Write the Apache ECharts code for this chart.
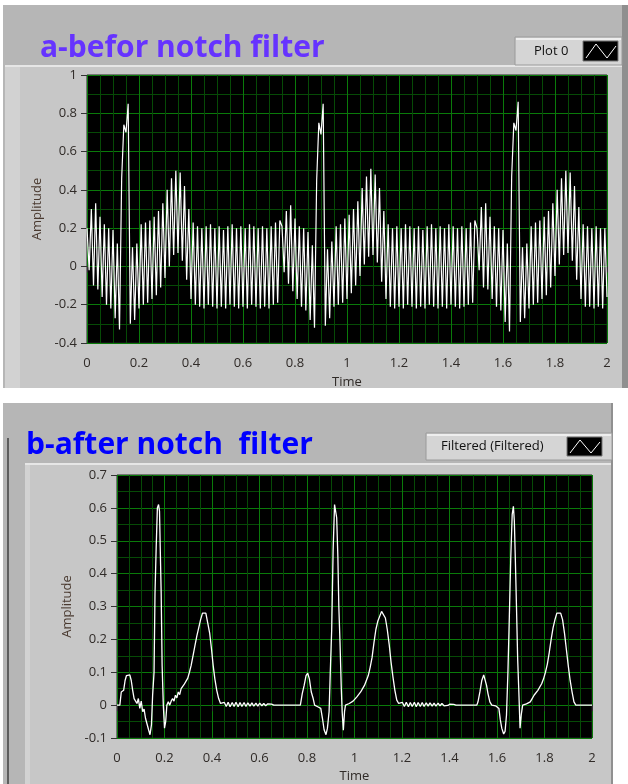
<!DOCTYPE html>
<html>
<head>
<meta charset="utf-8">
<script src="https://cdn.jsdelivr.net/npm/echarts@6/dist/echarts.min.js"></script>
<style>
html,body{margin:0;padding:0;background:#fff;}
#chart{width:628px;height:784px;}
</style>
</head>
<body>
<div id="chart"></div>
<script>
// ---------- DATA ----------
// Panel a: raw signal (ECG + mains interference), samples taken every 1/120 s from t = 0 to 2 s
const SAMPLE_RATE_A = 120;
const rawAmplitudeA = [
  // beat 1
  0.20,-0.02,0.30,-0.10,0.33,-0.12,0.26,-0.16,0.22,-0.20,
  0.20,-0.22,0.19,-0.27,0.12,-0.33,0.46,0.74,0.70,0.85,
  -0.30,0.10,-0.28,0.12,-0.22,0.22,-0.20,0.23,-0.19,0.24,
  -0.17,0.26,-0.15,0.29,-0.11,0.33,-0.06,0.40,0.00,0.46,
  0.06,0.50,0.07,0.49,0.03,0.42,-0.07,0.30,-0.17,0.23,
  -0.20,
  // baseline
  0.21,-0.21,0.20,-0.22,0.21,-0.20,0.22,-0.21,0.20,-0.22,
  0.21,-0.21,0.19,-0.22,0.21,-0.20,0.22,-0.21,0.20,-0.22,
  0.21,-0.21,0.20,-0.22,0.22,-0.20,0.21,-0.21,0.20,-0.22,
  0.21,-0.21,0.20,-0.22,0.21,-0.20,0.23,-0.19,0.24,
  // beat 2
  0.21,-0.03,0.29,-0.09,0.32,-0.13,0.25,-0.17,0.21,-0.21,
  0.20,-0.23,0.18,-0.28,0.11,-0.32,0.45,0.75,0.69,0.85,
  -0.31,0.09,-0.27,0.13,-0.21,0.21,-0.20,0.22,-0.19,0.25,
  -0.17,0.27,-0.14,0.30,-0.10,0.34,-0.05,0.41,0.01,0.47,
  0.05,0.51,0.06,0.48,0.02,0.41,-0.08,0.29,-0.17,0.22,
  -0.21,
  // baseline
  0.20,-0.22,0.21,-0.21,0.20,-0.22,0.22,-0.20,0.21,-0.21,
  0.20,-0.22,0.21,-0.21,0.19,-0.22,0.21,-0.20,0.22,-0.21,
  0.20,-0.22,0.21,-0.21,0.20,-0.22,0.22,-0.20,0.21,-0.21,
  0.20,-0.22,0.21,-0.21,0.20,-0.20,0.23,-0.19,0.24,
  // beat 3
  0.20,-0.02,0.31,-0.11,0.33,-0.12,0.26,-0.17,0.21,-0.21,
  0.20,-0.23,0.19,-0.29,0.12,-0.34,0.47,0.75,0.71,0.86,
  -0.29,0.10,-0.27,0.12,-0.22,0.21,-0.20,0.23,-0.19,0.24,
  -0.17,0.26,-0.15,0.29,-0.11,0.33,-0.05,0.40,0.01,0.46,
  0.06,0.50,0.07,0.49,0.03,0.42,-0.07,0.31,-0.17,0.22,
  -0.21,
  // tail
  0.21,-0.21,0.20,-0.22,0.21,-0.21,0.20,-0.22,0.20,-0.16
];

// Panel b: filtered signal, [time (s), amplitude]
const filteredB = [
  [0.000,0.000],[0.012,0.000],[0.018,0.040],[0.028,0.045],[0.034,0.075],[0.040,0.090],
  [0.047,0.085],[0.054,0.092],[0.060,0.075],[0.066,0.045],[0.072,0.020],[0.078,0.025],
  [0.084,0.005],[0.090,0.020],[0.096,-0.010],[0.102,0.012],[0.108,-0.020],[0.114,-0.012],
  [0.120,-0.040],[0.127,-0.038],[0.133,-0.075],[0.139,-0.090],[0.145,-0.060],[0.150,0.030],
  [0.156,0.100],[0.160,0.340],[0.165,0.480],[0.170,0.600],[0.175,0.610],[0.179,0.590],
  [0.182,0.480],[0.186,0.340],[0.190,0.120],[0.195,0.000],[0.200,-0.070],[0.205,-0.050],
  [0.210,0.000],[0.216,0.010],[0.222,0.000],[0.228,0.012],[0.234,0.020],[0.240,0.012],
  [0.246,0.030],[0.252,0.022],[0.258,0.040],[0.264,0.032],[0.270,0.050],[0.276,0.055],
  [0.282,0.062],[0.290,0.066],[0.298,0.082],[0.305,0.100],[0.312,0.120],[0.320,0.150],
  [0.328,0.180],[0.336,0.210],[0.344,0.235],[0.352,0.260],[0.360,0.280],[0.368,0.285],
  [0.374,0.280],[0.382,0.250],[0.390,0.220],[0.398,0.170],[0.405,0.120],[0.412,0.080],
  [0.420,0.045],[0.428,0.020],[0.436,0.005],[0.444,0.000],
  [0.452,0.008],[0.460,-0.004],[0.468,0.009],[0.476,-0.005],[0.485,0.008],[0.493,-0.004],
  [0.501,0.009],[0.510,-0.005],[0.518,0.008],[0.526,-0.004],[0.535,0.008],[0.543,-0.004],
  [0.551,0.007],[0.560,-0.003],[0.568,0.007],[0.576,-0.003],[0.585,0.006],[0.593,-0.003],
  [0.601,0.006],[0.610,-0.002],[0.618,0.005],[0.626,-0.002],[0.635,0.004],[0.643,-0.001],
  [0.651,0.003],[0.660,0.000],[0.668,0.002],[0.676,0.000],[0.700,0.000],[0.740,0.000],
  [0.772,0.000],
  [0.780,0.035],[0.788,0.060],[0.796,0.090],[0.803,0.097],[0.810,0.080],[0.818,0.040],
  [0.826,0.020],[0.832,0.000],[0.838,0.005],[0.845,-0.005],[0.852,0.000],[0.858,-0.010],
  [0.865,-0.040],[0.872,-0.075],[0.880,-0.090],[0.886,-0.070],[0.893,-0.020],[0.898,0.100],
  [0.904,0.230],[0.910,0.470],[0.916,0.610],[0.921,0.615],[0.925,0.570],[0.930,0.450],
  [0.934,0.300],[0.939,0.190],[0.944,0.060],[0.948,-0.020],[0.953,-0.076],[0.958,-0.020],
  [0.962,0.000],[0.970,-0.002],[0.978,0.005],[0.986,0.003],[0.994,0.012],[1.002,0.016],
  [1.010,0.025],[1.018,0.030],[1.026,0.040],[1.034,0.050],[1.042,0.060],[1.050,0.075],
  [1.058,0.090],[1.066,0.115],[1.074,0.145],[1.082,0.190],[1.090,0.230],[1.098,0.255],
  [1.106,0.270],[1.114,0.285],[1.122,0.280],[1.130,0.265],[1.138,0.230],[1.146,0.185],
  [1.154,0.130],[1.162,0.085],[1.170,0.045],[1.178,0.015],[1.186,0.005],[1.194,0.000],
  [1.202,0.008],[1.210,-0.004],[1.218,0.009],[1.227,-0.005],[1.235,0.008],[1.243,-0.004],
  [1.252,0.009],[1.260,-0.005],[1.268,0.008],[1.277,-0.004],[1.285,0.008],[1.293,-0.004],
  [1.302,0.007],[1.310,-0.003],[1.318,0.007],[1.327,-0.003],[1.335,0.006],[1.343,-0.003],
  [1.352,0.006],[1.360,-0.002],[1.368,0.005],[1.377,-0.002],[1.385,0.004],[1.393,-0.001],
  [1.402,0.003],[1.410,0.000],[1.418,0.002],[1.427,0.000],[1.435,0.001],[1.445,0.000],
  [1.480,0.000],[1.515,0.000],
  [1.520,0.010],[1.528,0.040],[1.536,0.075],[1.544,0.092],[1.550,0.090],[1.556,0.060],
  [1.562,0.035],[1.570,0.010],[1.578,0.000],[1.586,0.003],[1.594,-0.002],[1.602,0.000],
  [1.608,-0.010],[1.614,-0.045],[1.620,-0.070],[1.628,-0.088],[1.634,-0.080],[1.640,-0.030],
  [1.646,0.100],[1.652,0.270],[1.658,0.450],[1.664,0.580],[1.669,0.605],[1.673,0.560],
  [1.677,0.450],[1.682,0.300],[1.687,0.140],[1.692,0.040],[1.697,-0.070],[1.702,-0.030],
  [1.708,0.000],[1.716,0.005],[1.724,0.004],[1.732,0.008],[1.740,0.010],[1.748,0.020],
  [1.756,0.030],[1.764,0.035],[1.772,0.045],[1.780,0.050],[1.788,0.065],[1.796,0.080],
  [1.804,0.100],[1.812,0.125],[1.820,0.160],[1.828,0.200],[1.836,0.235],[1.844,0.260],
  [1.852,0.280],[1.860,0.285],[1.868,0.280],[1.876,0.260],[1.884,0.220],[1.892,0.170],
  [1.900,0.120],[1.908,0.075],[1.916,0.040],[1.924,0.010],[1.932,0.000],[2.000,0.000]
];

const titleA = 'a-befor notch filter';
const titleB = 'b-after notch  filter';
const legendA = 'Plot 0';
const legendB = 'Filtered (Filtered)';
const xName = 'Time';
const yName = 'Amplitude';

// ---------- CHART ----------
const seriesA = rawAmplitudeA.map((v, i) => [i / SAMPLE_RATE_A, v]);

const FONT = 'Open Sans';
const LABEL_COLOR = '#302b28';
const MAJOR = '#0a7a0a';
const MINOR = '#064a06';

function xAx(gridIndex, gap) {
  return {
    type: 'value', gridIndex, min: 0, max: 2, interval: 0.2,
    name: xName, nameLocation: 'middle', nameGap: gap,
    nameTextStyle: {fontFamily: FONT, fontSize: 13, color: LABEL_COLOR},
    axisLine: {show: false},
    axisTick: {show: true, length: 6, lineStyle: {color: '#333'}},
    axisLabel: {margin: 14, fontFamily: FONT, fontSize: 13, color: LABEL_COLOR},
    splitLine: {show: true, lineStyle: {color: MAJOR, width: 1}},
    minorTick: {show: false, splitNumber: 4},
    minorSplitLine: {show: true, lineStyle: {color: MINOR, width: 1}}
  };
}
function yAx(gridIndex, min, max, interval, minorSplit, gap) {
  return {
    type: 'value', gridIndex, min, max, interval,
    name: yName, nameLocation: 'middle', nameGap: gap,
    nameTextStyle: {fontFamily: FONT, fontSize: 13, color: '#4a3a30'},
    axisLine: {show: false},
    axisTick: {show: true, length: 6, lineStyle: {color: '#333'}},
    axisLabel: {margin: 10, fontFamily: FONT, fontSize: 13, color: LABEL_COLOR},
    splitLine: {show: true, lineStyle: {color: MAJOR, width: 1}},
    minorTick: {show: false, splitNumber: minorSplit},
    minorSplitLine: {show: true, lineStyle: {color: MINOR, width: 1}}
  };
}

function legendBox(x, y, w, h, text, textX, iconX) {
  return [
    {type: 'rect', z: -5, shape: {x: x, y: y, width: w, height: h}, style: {fill: '#d5d5d5', stroke: '#9a9a9a', lineWidth: 1}},
    {type: 'rect', z: -4, shape: {x: x + 1, y: y + 1, width: w - 2, height: 2}, style: {fill: '#eeeeee'}},
    {type: 'text', z: -3, style: {x: textX, y: y + h / 2, text: text, fontFamily: FONT, fontSize: 13, fill: '#111', textVerticalAlign: 'middle'}},
    {type: 'rect', z: -3, shape: {x: iconX, y: y + 4, width: 35, height: h - 8}, style: {fill: '#000', stroke: '#777', lineWidth: 1}},
    {type: 'polyline', z: -2, shape: {points: [[iconX + 3, y + h - 7], [iconX + 13, y + 7], [iconX + 24, y + h - 7], [iconX + 33, y + 9]]}, style: {stroke: '#fff', lineWidth: 1, fill: null}}
  ];
}

const graphics = [
  // top panel
  {type: 'rect', z: -10, shape: {x: 3, y: 5, width: 625, height: 383}, style: {fill: '#b6b6b6'}},
  {type: 'rect', z: -9, shape: {x: 5, y: 65, width: 617, height: 323}, style: {fill: '#c7c7c7'}},
  {type: 'rect', z: -8, shape: {x: 5, y: 65, width: 617, height: 2}, style: {fill: '#e6e6e6'}},
  {type: 'rect', z: -8, shape: {x: 5, y: 67, width: 15, height: 321}, style: {fill: '#d2d2d2'}},
  {type: 'rect', z: -8, shape: {x: 622, y: 5, width: 6, height: 383}, style: {fill: '#8f8f8f'}},
  // bottom panel
  {type: 'rect', z: -10, shape: {x: 3, y: 403, width: 610, height: 381}, style: {fill: '#b6b6b6'}},
  {type: 'rect', z: -9, shape: {x: 25, y: 463, width: 586, height: 321}, style: {fill: '#c7c7c7'}},
  {type: 'rect', z: -8, shape: {x: 25, y: 463, width: 586, height: 2}, style: {fill: '#e6e6e6'}},
  {type: 'rect', z: -8, shape: {x: 25, y: 465, width: 5, height: 319}, style: {fill: '#d2d2d2'}},
  {type: 'rect', z: -8, shape: {x: 611, y: 403, width: 2, height: 381}, style: {fill: '#909090'}},
  {type: 'rect', z: -8, shape: {x: 7, y: 438, width: 2, height: 346}, style: {fill: '#5e5e5e'}}
].concat(legendBox(515, 37, 107, 28, legendA, 534, 583))
 .concat(legendBox(426, 433, 186, 27, legendB, 441, 567));

const option = {
  animation: false,
  backgroundColor: '#ffffff',
  title: [
    {text: titleA, left: 35, top: 28, padding: 5,
     textStyle: {fontFamily: FONT, fontWeight: 'bold', fontSize: 30, color: '#6633ff'}},
    {text: titleB, left: 21, top: 425, padding: 5,
     textStyle: {fontFamily: FONT, fontWeight: 'bold', fontSize: 30, color: '#0000ff'}}
  ],
  grid: [
    {left: 87, top: 75, width: 520, height: 268, show: true, backgroundColor: '#000', borderWidth: 1, borderColor: '#222'},
    {left: 117, top: 475, width: 475, height: 263, show: true, backgroundColor: '#000', borderWidth: 1, borderColor: '#222'}
  ],
  xAxis: [xAx(0, 33), xAx(1, 32)],
  yAxis: [yAx(0, -0.4, 1, 0.2, 2, 38), yAx(1, -0.1, 0.7, 0.1, 2, 37)],
  series: [
    {type: 'line', xAxisIndex: 0, yAxisIndex: 0, data: seriesA, showSymbol: false,
     lineStyle: {color: '#ffffff', width: 1.2}, z: 3},
    {type: 'line', xAxisIndex: 1, yAxisIndex: 1, data: filteredB, showSymbol: false,
     lineStyle: {color: '#ffffff', width: 1.3}, z: 3}
  ],
  graphic: {elements: graphics}
};

const chart = echarts.init(document.getElementById('chart'), null, {renderer: 'canvas'});
chart.setOption(option);
</script>
</body>
</html>
